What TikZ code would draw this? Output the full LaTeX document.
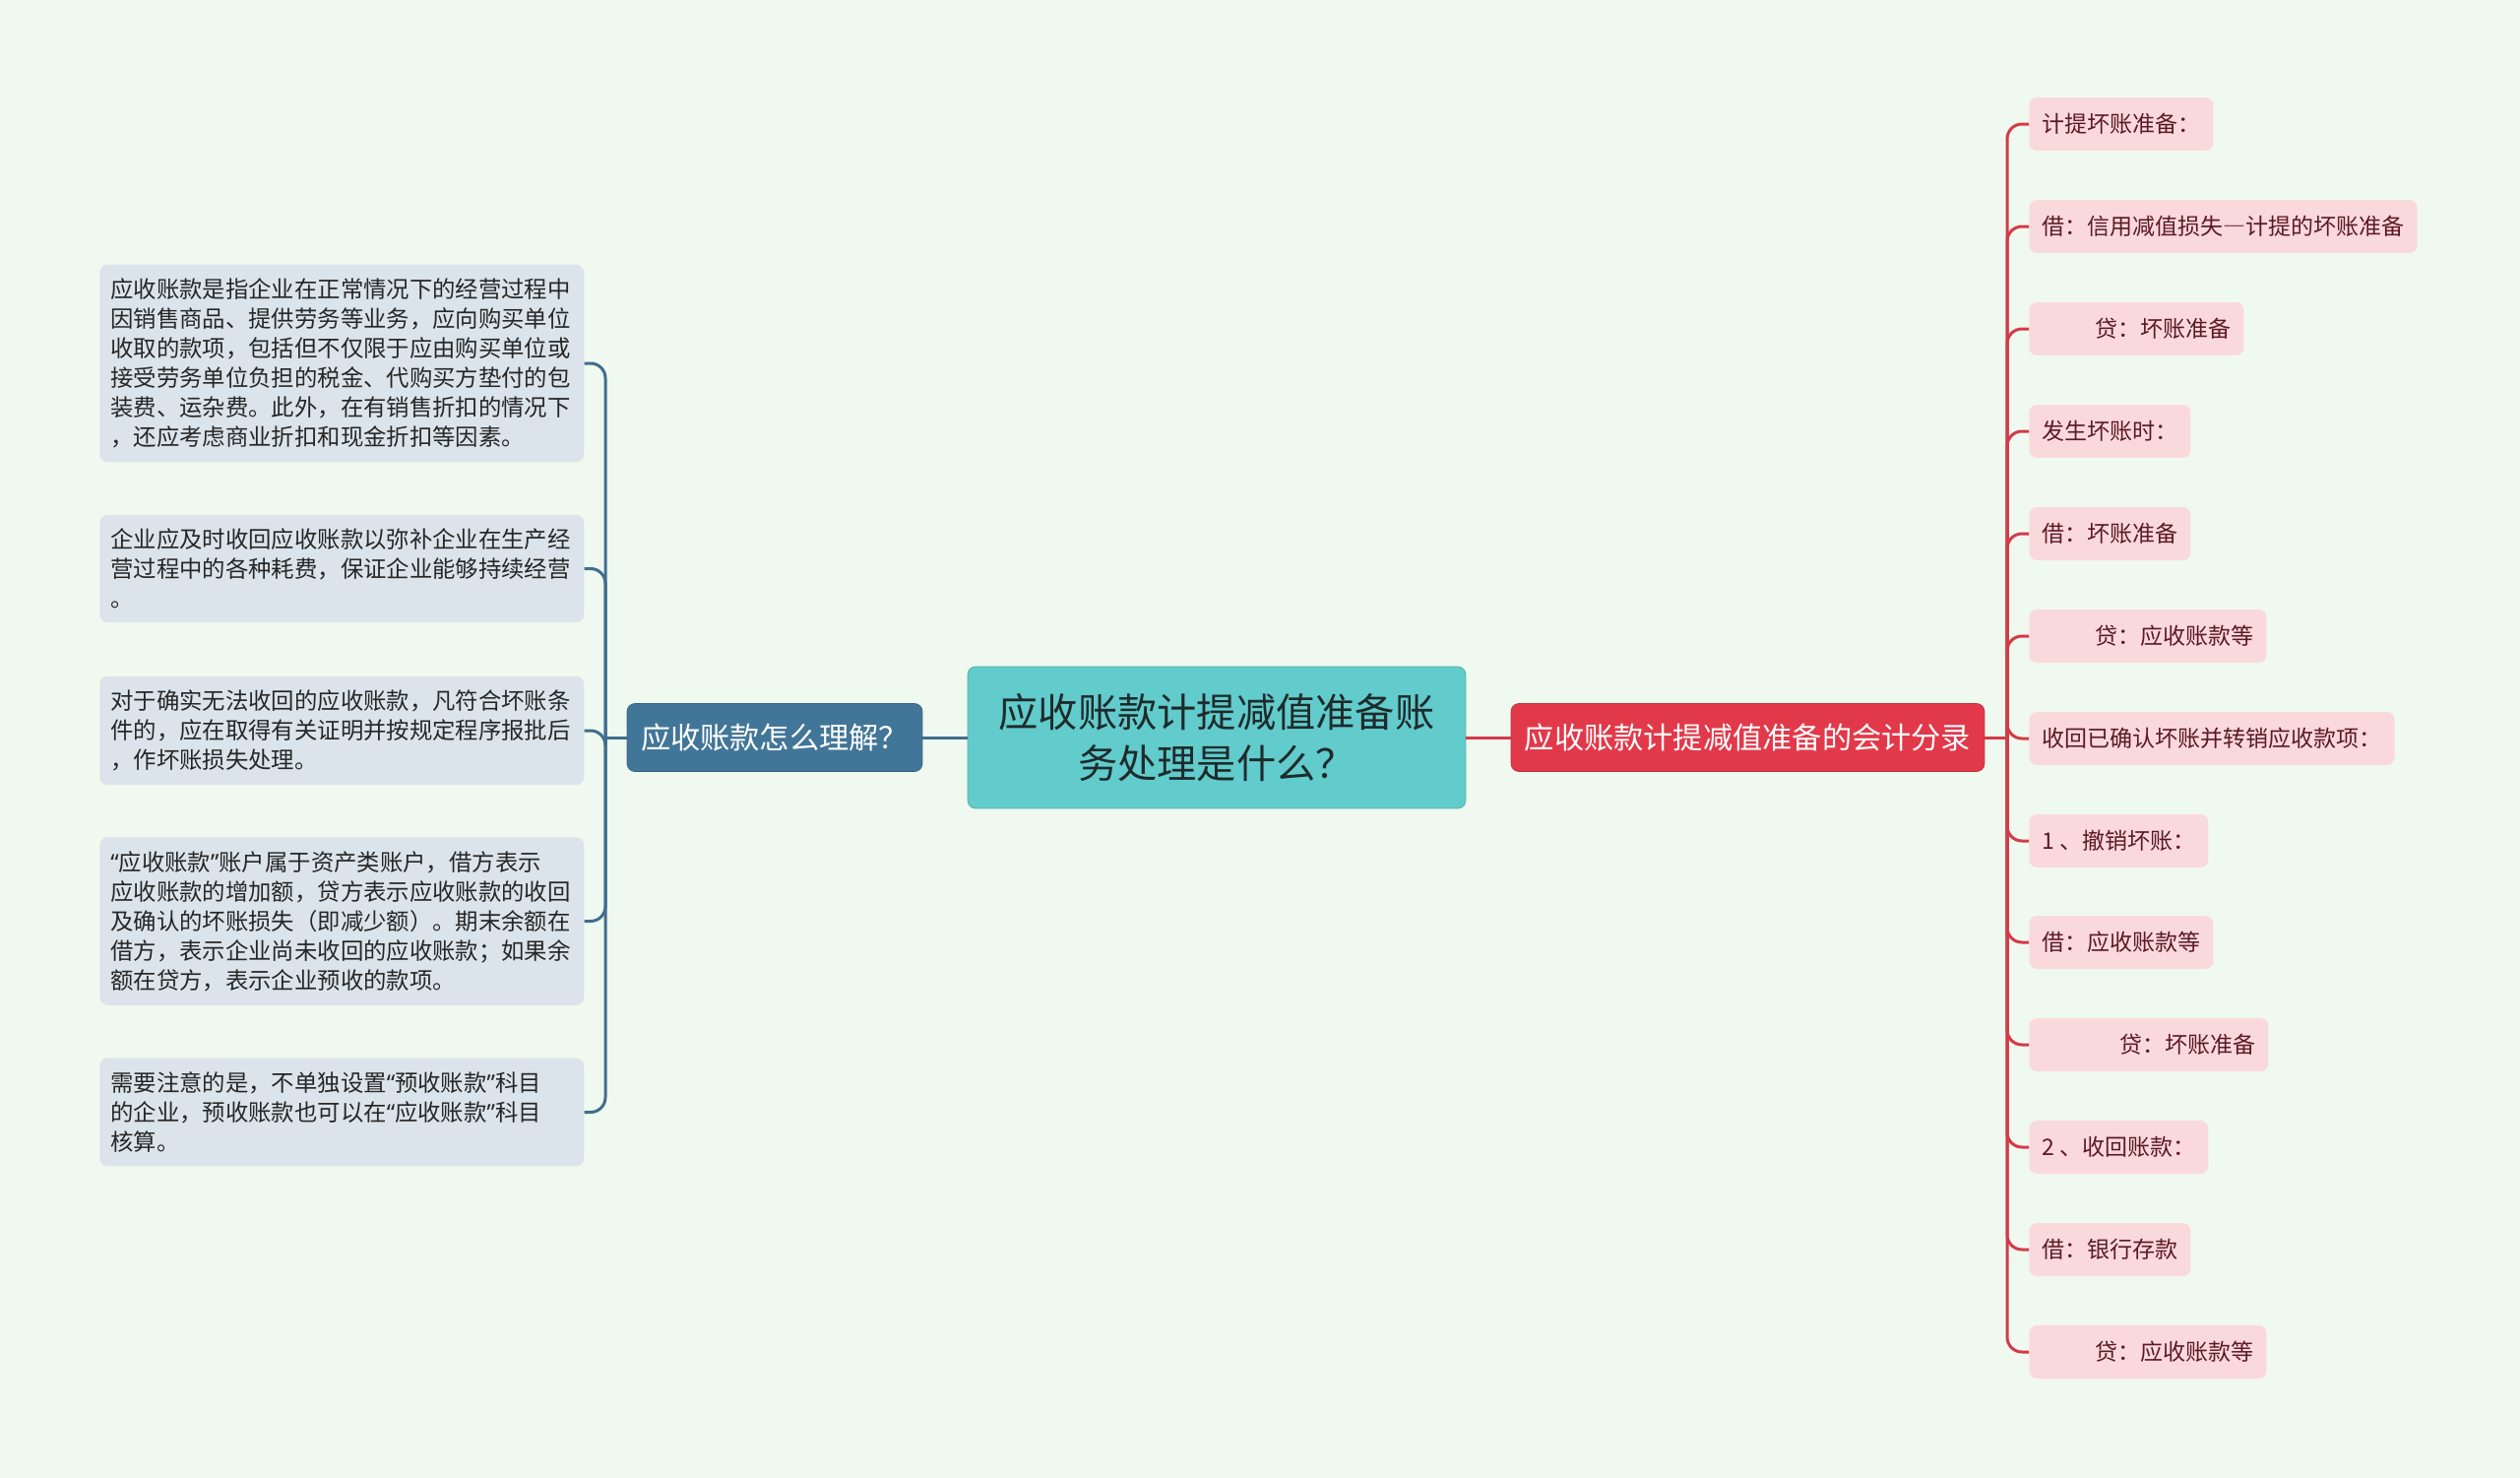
\documentclass[tikz,border=0pt]{standalone}
\usepackage{fontspec}
\setmainfont{Noto Sans CJK SC}
\newfontfamily\quotefont{Noto Sans}
\newcommand{\openq}{{\quotefont “}}
\newcommand{\closeq}{{\quotefont ”}}
\newcommand{\widedash}{{\addfontfeatures{RawFeature=+fwid}—}}
\usepackage{xcolor}
\usepackage{tikz}
\definecolor{mapbg}{HTML}{F0F9EF}
\definecolor{rootteal}{HTML}{62CBCC}
\definecolor{roottext}{HTML}{1E2B2B}
\definecolor{askblue}{HTML}{427698}
\definecolor{askline}{HTML}{3F6E8E}
\definecolor{askleaf}{HTML}{DBE4EA}
\definecolor{entryred}{HTML}{E2394A}
\definecolor{entryline}{HTML}{D43A48}
\definecolor{entryleaf}{HTML}{FAD9DD}
\definecolor{entrytext}{HTML}{5C1A22}

\begin{document}
\begin{tikzpicture}[x=0.02cm, y=-0.02cm,
  rootbox/.style={fill=rootteal, draw=rootteal!85!black, line width=0.4pt, rounded corners=0.16cm,
    minimum width=10.12cm, minimum height=2.88cm, align=center, text=roottext,
    font=\fontsize{22.9}{29.6}\selectfont},
  branchbox/.style={line width=0.4pt, rounded corners=0.16cm, minimum height=1.38cm,
    text=white, font=\fontsize{17.2}{20}\selectfont},
  askleafbox/.style={fill=askleaf, rounded corners=0.16cm, anchor=west, text width=9.4cm,
    inner xsep=0.22cm, inner ysep=0.28cm, align=left, text=black!85,
    font=\fontsize{13.3}{17.1}\selectfont},
  entryleafbox/.style={fill=entryleaf, rounded corners=0.16cm, anchor=west, minimum height=1.08cm,
    inner xsep=0.26cm, text=entrytext, font=\fontsize{13.1}{15}\selectfont},
  askedge/.style={draw=askline, line width=0.06cm, rounded corners=0.3cm},
  entryedge/.style={draw=entryline, line width=0.06cm, rounded corners=0.3cm}]
  \useasboundingbox[fill=mapbg] (0,0) rectangle (2560,1501);

  % centre and the two branches
  \node[rootbox] (root) at (1236,749) {应收账款计提减值准备账\\务处理是什么？};
  \node[branchbox, fill=askblue, draw=askblue!85!black, minimum width=6cm] (ask) at (787,749) {应收账款怎么理解？};
  \node[branchbox, fill=entryred, draw=entryred!85!black, minimum width=9.62cm] (entry) at (1775.5,749) {应收账款计提减值准备的会计分录};

  % left leaves
  \node[askleafbox] (def) at (101,369) {应收账款是指企业在正常情况下的经营过程中\\因销售商品、提供劳务等业务，应向购买单位\\收取的款项，包括但不仅限于应由购买单位或\\接受劳务单位负担的税金、代购买方垫付的包\\装费、运杂费。此外，在有销售折扣的情况下\\，还应考虑商业折扣和现金折扣等因素。};
  \node[askleafbox] (timely) at (101,577.5) {企业应及时收回应收账款以弥补企业在生产经\\营过程中的各种耗费，保证企业能够持续经营\\。};
  \node[askleafbox] (baddebt) at (101,742) {对于确实无法收回的应收账款，凡符合坏账条\\件的，应在取得有关证明并按规定程序报批后\\，作坏账损失处理。};
  \node[askleafbox] (account) at (101,935.5) {\openq 应收账款\closeq 账户属于资产类账户，借方表示\\应收账款的增加额，贷方表示应收账款的收回\\及确认的坏账损失（即减少额）。期末余额在\\借方，表示企业尚未收回的应收账款；如果余\\额在贷方，表示企业预收的款项。};
  \node[askleafbox] (note) at (101,1129.5) {需要注意的是，不单独设置\openq 预收账款\closeq 科目\\的企业，预收账款也可以在\openq 应收账款\closeq 科目\\核算。};

  % right leaves
  \node[entryleafbox] (provide) at (2061,126) {计提坏账准备：};
  \node[entryleafbox] (provdr) at (2061,230) {借：信用减值损失\widedash 计提的坏账准备};
  \node[entryleafbox] (provcr) at (2061,334) {\hspace*{1.08cm}贷：坏账准备};
  \node[entryleafbox] (occur) at (2061,438) {发生坏账时：};
  \node[entryleafbox] (occdr) at (2061,542) {借：坏账准备};
  \node[entryleafbox] (occcr) at (2061,646) {\hspace*{1.08cm}贷：应收账款等};
  \node[entryleafbox] (recover) at (2061,750) {收回已确认坏账并转销应收款项：};
  \node[entryleafbox] (undo) at (2061,854) {1 、撤销坏账：};
  \node[entryleafbox] (undodr) at (2061,957) {借：应收账款等};
  \node[entryleafbox] (undocr) at (2061,1061) {\hspace*{1.58cm}贷：坏账准备};
  \node[entryleafbox] (collect) at (2061,1165) {2 、收回账款：};
  \node[entryleafbox] (colldr) at (2061,1269) {借：银行存款};
  \node[entryleafbox] (collcr) at (2061,1373) {\hspace*{1.08cm}贷：应收账款等};

  % connectors
  \coordinate (askbus) at (615,749);
  \coordinate (entrybus) at (2039,749);
  \draw[askedge] (root) -- (ask);
  \draw[entryedge] (root) -- (entry);
  \draw[askedge] (ask.west) -- (askbus);
  \draw[askedge] (askbus) |- (def.east);
  \draw[askedge] (askbus) |- (timely.east);
  \draw[askedge] (askbus) |- (baddebt.east);
  \draw[askedge] (askbus) |- (account.east);
  \draw[askedge] (askbus) |- (note.east);
  \draw[entryedge] (entry.east) -- (entrybus);
  \draw[entryedge] (entrybus) |- (provide.west);
  \draw[entryedge] (entrybus) |- (provdr.west);
  \draw[entryedge] (entrybus) |- (provcr.west);
  \draw[entryedge] (entrybus) |- (occur.west);
  \draw[entryedge] (entrybus) |- (occdr.west);
  \draw[entryedge] (entrybus) |- (occcr.west);
  \draw[entryedge] (entrybus) |- (recover.west);
  \draw[entryedge] (entrybus) |- (undo.west);
  \draw[entryedge] (entrybus) |- (undodr.west);
  \draw[entryedge] (entrybus) |- (undocr.west);
  \draw[entryedge] (entrybus) |- (collect.west);
  \draw[entryedge] (entrybus) |- (colldr.west);
  \draw[entryedge] (entrybus) |- (collcr.west);
\end{tikzpicture}
\end{document}
